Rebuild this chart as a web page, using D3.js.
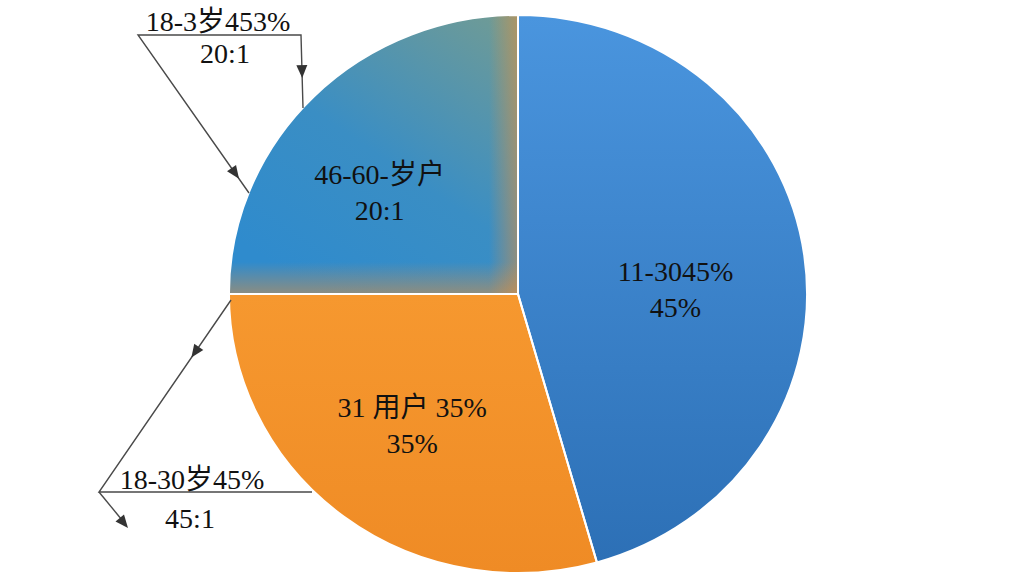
<!DOCTYPE html>
<meta charset="utf-8">
<head>
    <script type="text/javascript" src="https://cdn.jsdelivr.net/npm/d3@7"></script>
    <style>
        body { margin: 0; background: #fff; }
    </style>
    <title>用户年龄分布</title>
</head>
<body>
<div id="chart"></div>
<script>
    // slice data (angles), clockwise from 12 o'clock
    var categories = ["11-30", "31", "46-60"];
    var values = [45.6, 29.4, 25];
    // text printed in the slices, as seen in the picture
    var sliceLine1 = ["11-3045%", "31 用户 35%", "46-60-岁户"];
    var sliceLine2 = ["45%", "35%", "20:1"];
    // the two call-out labels outside the pie
    var calloutLine1 = ["18-3岁453%", "18-30岁45%"];
    var calloutLine2 = ["20:1", "45:1"];

    var width = 1024, height = 576;
    var cx = 518, cy = 294;
    var radius = 279, stretchX = 1.036;   // the pie is slightly wider than tall
    var font = "Liberation Serif, Noto Sans CJK SC, serif";

    var svg = d3.select("#chart").append("svg")
        .attr("width", width)
        .attr("height", height);

    var defs = svg.append("defs");

    function linGrad(id, x1, y1, x2, y2, stops) {
        var g = defs.append("linearGradient").attr("id", id)
            .attr("gradientUnits", "userSpaceOnUse")
            .attr("x1", x1).attr("y1", y1).attr("x2", x2).attr("y2", y2);
        stops.forEach(function (s) {
            g.append("stop").attr("offset", s[0]).attr("stop-color", s[1])
                .attr("stop-opacity", s[2] === undefined ? 1 : s[2]);
        });
    }

    linGrad("gBlue", 0, -radius, 0, radius, [[0, "#4a95de"], [1, "#2c6fb5"]]);
    linGrad("gOrange", 0, 0, 0, radius, [[0, "#f6982f"], [1, "#ef8b25"]]);
    linGrad("gTeal", -radius * 0.75, -10, -20, -radius, [[0, "#2f8bcd"], [0.45, "#3a8ec4"], [1, "#6f9b96"]]);
    linGrad("gTealRight", -28, 0, 0, 0, [[0, "#e98f35", 0], [1, "#e98f35", 0.5]]);
    linGrad("gTealBottom", 0, -32, 0, 0, [[0, "#e98f35", 0], [1, "#e98f35", 0.5]]);

    var fills = ["url(#gBlue)", "url(#gOrange)", "url(#gTeal)"];

    var pie = d3.pie().sort(null).value(function (d) { return d; });
    var arcs = pie(values);
    var arc = d3.arc().innerRadius(0).outerRadius(radius);

    var g = svg.append("g")
        .attr("transform", "translate(" + cx + "," + cy + ") scale(" + stretchX + ",1)");

    g.selectAll("path.slice")
        .data(arcs)
        .enter()
        .append("path")
        .attr("class", "slice")
        .attr("d", arc)
        .attr("fill", function (d, i) { return fills[i]; });

    // orange fringes on the third slice
    ["url(#gTealRight)", "url(#gTealBottom)"].forEach(function (f) {
        g.append("path").attr("d", arc(arcs[2])).attr("fill", f);
    });

    g.selectAll("path.edge")
        .data(arcs)
        .enter()
        .append("path")
        .attr("class", "edge")
        .attr("d", arc)
        .attr("fill", "none")
        .attr("stroke", "#fff")
        .attr("stroke-width", 2)
        .attr("vector-effect", "non-scaling-stroke");

    // slice labels, placed from the arc centroid with small nudges
    var labelArc = d3.arc().innerRadius(0).outerRadius(radius * 1.1);
    var nudge = [[0, 8], [-10, 1], [-26, -1]];
    var fontSize = 28, lineGap = 36;

    arcs.forEach(function (d, i) {
        var c = labelArc.centroid(d);
        var x = cx + c[0] * stretchX + nudge[i][0];
        var y = cy + c[1] + nudge[i][1];
        var t = svg.append("text")
            .attr("text-anchor", "middle")
            .attr("font-family", font)
            .attr("font-size", fontSize)
            .attr("fill", "#111");
        t.append("tspan").attr("x", x).attr("y", y).text(sliceLine1[i]);
        t.append("tspan").attr("x", x).attr("y", y + lineGap).text(sliceLine2[i]);
    });

    // call-outs with leader lines
    var callouts = [
        {pts: [[249, 193], [138, 35], [301, 35], [303, 108]],
         arrows: [[0, 0.09], [2, 0.59]], reverse: [true, false],
         text: [218, 31], text2: [225, 63]},
        {pts: [[231, 300], [99, 492], [312, 492]],
         arrows: [[0, 0.3]], reverse: [false],
         text: [192, 489], text2: [190, 528]}
    ];

    var line = d3.line();
    var ink = "#4a4a4a";

    function arrowHead(x, y, ang) {
        var L = 13, W = 5.5;
        var p = [[0, 0], [-L, -W], [-L, W]].map(function (q) {
            return [x + q[0] * Math.cos(ang) - q[1] * Math.sin(ang),
                    y + q[0] * Math.sin(ang) + q[1] * Math.cos(ang)];
        });
        svg.append("path").attr("d", line(p) + "Z").attr("fill", "#333");
    }

    callouts.forEach(function (c, i) {
        svg.append("path")
            .attr("d", line(c.pts))
            .attr("fill", "none")
            .attr("stroke", ink)
            .attr("stroke-width", 1.4);

        c.arrows.forEach(function (a, k) {
            var p0 = c.pts[a[0]], p1 = c.pts[a[0] + 1];
            if (c.reverse[k]) { var tmp = p0; p0 = p1; p1 = tmp; }
            var t = c.reverse[k] ? 1 - a[1] : a[1];
            var x = p0[0] + (p1[0] - p0[0]) * t, y = p0[1] + (p1[1] - p0[1]) * t;
            arrowHead(x, y, Math.atan2(p1[1] - p0[1], p1[0] - p0[0]));
        });

        svg.append("text")
            .attr("x", c.text[0]).attr("y", c.text[1])
            .attr("text-anchor", "middle")
            .attr("font-family", font)
            .attr("font-size", fontSize)
            .attr("fill", "#111")
            .text(calloutLine1[i]);
        svg.append("text")
            .attr("x", c.text2[0]).attr("y", c.text2[1])
            .attr("text-anchor", "middle")
            .attr("font-family", font)
            .attr("font-size", fontSize)
            .attr("fill", "#111")
            .text(calloutLine2[i]);
    });

    // short arrow below the lower call-out
    svg.append("path")
        .attr("d", line([[99, 492], [122, 520]]))
        .attr("stroke", ink).attr("stroke-width", 1.4);
    arrowHead(128, 528, Math.atan2(28, 23));
</script>
</body>
</html>
